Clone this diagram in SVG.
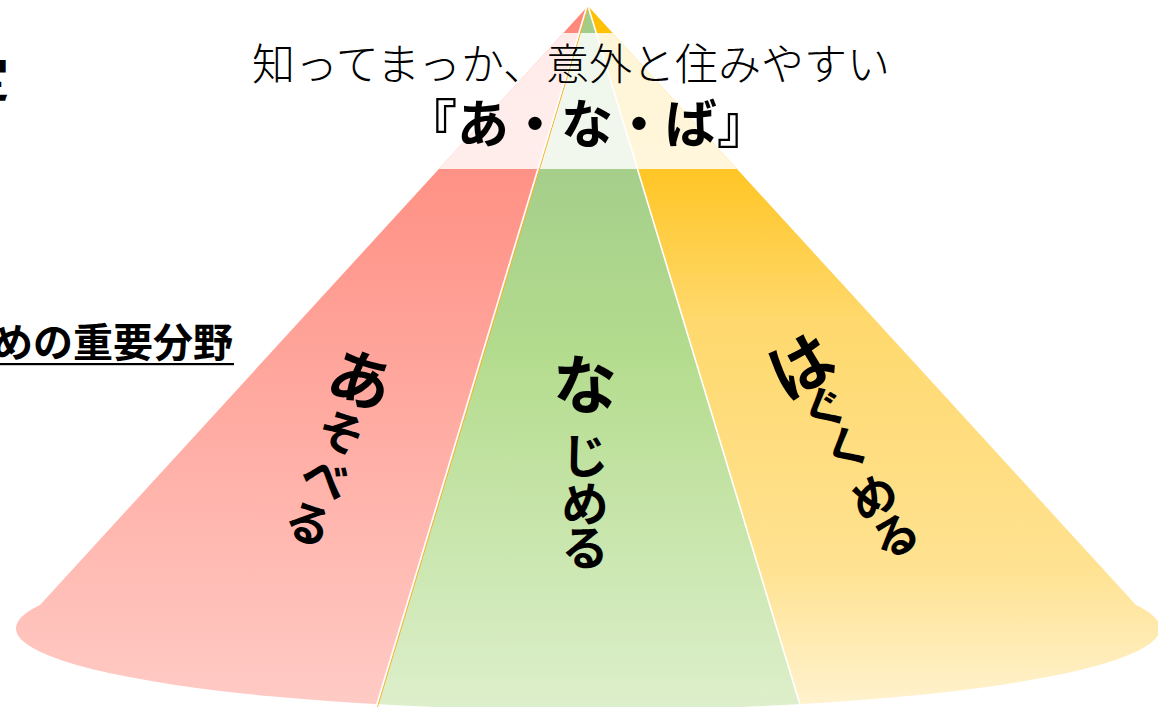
<svg xmlns="http://www.w3.org/2000/svg" width="1158" height="707" viewBox="0 0 1158 707">
<style>
.jp{font-family:"Noto Sans CJK JP","Noto Sans CJK SC",sans-serif;fill:#000}
.b{font-weight:700}
.lbl{font-family:"Noto Sans CJK JP","Noto Sans CJK SC",sans-serif;font-weight:700;fill:#000;text-anchor:middle;dominant-baseline:central}
.div{stroke:#fff;stroke-width:1.6;fill:none}
</style>
<defs>
<clipPath id="pyr"><path d="M588,6 L40,605 A572,81.6 0 1 0 1136,605 Z"/></clipPath>
<linearGradient id="gr" gradientUnits="userSpaceOnUse" x1="0" y1="6" x2="0" y2="707">
<stop offset="0" stop-color="#FF877A"/><stop offset="0.3" stop-color="#FF958A"/><stop offset="1" stop-color="#FFCBC5"/></linearGradient>
<linearGradient id="gg" gradientUnits="userSpaceOnUse" x1="0" y1="6" x2="0" y2="707">
<stop offset="0" stop-color="#A2CC88"/><stop offset="0.25" stop-color="#A6CF8B"/><stop offset="0.5" stop-color="#B4DC8E"/><stop offset="1" stop-color="#DDEFCB"/></linearGradient>
<linearGradient id="gy" gradientUnits="userSpaceOnUse" x1="0" y1="6" x2="0" y2="707">
<stop offset="0" stop-color="#FFC000"/><stop offset="0.23" stop-color="#FFC524"/><stop offset="0.45" stop-color="#FFD96E"/><stop offset="0.8" stop-color="#FFE291"/><stop offset="1" stop-color="#FFF2CF"/></linearGradient>
</defs>
<rect width="1158" height="707" fill="#fff"/>
<g id="pyramid" clip-path="url(#pyr)">
<polygon id="seg-red" points="588,6 375.6,712 -10,712 -10,0 588,0" fill="url(#gr)"/>
<polygon id="seg-green" points="588,6 375.6,712 802.4,712" fill="url(#gg)"/>
<polygon id="seg-yellow" points="588,6 802.4,712 1170,712 1170,0 588,0" fill="url(#gy)"/>
<rect x="0" y="33" width="1158" height="136" fill="#fff" fill-opacity="0.84"/>
</g>
<g id="connectors">
<line x1="588.5" y1="6" x2="377.5" y2="707" stroke="#FFB020" stroke-width="1"/>
<line x1="587" y1="6" x2="376" y2="707" class="div"/>
<line x1="588" y1="6" x2="801" y2="708" class="div"/>
</g>
<g id="side-texts">
<text class="jp b" x="9" y="96" font-size="48" text-anchor="end">定</text>
<text class="jp b" x="233" y="357" font-size="40" text-anchor="end">めの重要分野</text>
<rect x="0" y="363" width="234" height="2.2" fill="#000"/>
</g>
<g id="title">
<text class="jp" x="571" y="80" font-size="43" font-weight="300" text-anchor="middle" fill="#1a1a1a">知ってまっか、意外と住みやすい</text>
<text class="jp b" x="587" y="143" font-size="52" text-anchor="middle">『あ・な・ば』</text>
</g>
<g id="node-asoberu" transform="translate(362,376) rotate(20)">
<text class="lbl" x="0" y="0" font-size="62">あ</text>
<text class="lbl" x="0" y="57" font-size="46">そ</text>
<text class="lbl" x="0" y="106" font-size="46">べ</text>
<text class="lbl" x="0" y="154" font-size="46">る</text>
</g>
<g id="node-najimeru">
<text class="lbl" x="585" y="380" font-size="64">な</text>
<text class="lbl" x="585" y="452" font-size="47">じ</text>
<text class="lbl" x="585" y="500" font-size="47">め</text>
<text class="lbl" x="585" y="544" font-size="47">る</text>
</g>
<g id="node-hagukumeru" transform="translate(799,362) rotate(-29)">
<text class="lbl" x="0" y="0" font-size="64">は</text>
<text class="lbl" x="0" y="50" font-size="46">ぐ</text>
<text class="lbl" x="0" y="96" font-size="46">く</text>
<text class="lbl" x="0" y="151" font-size="46">め</text>
<text class="lbl" x="0" y="196" font-size="46">る</text>
</g>
</svg>
